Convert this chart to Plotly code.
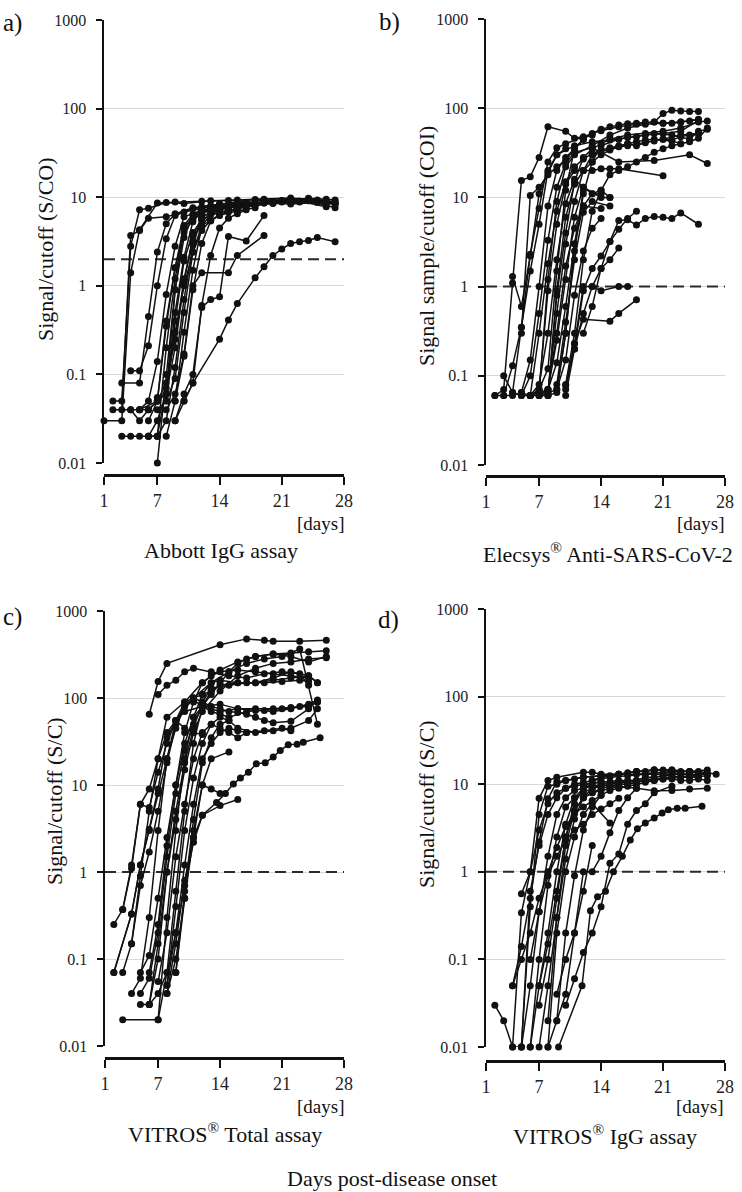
import plotly.graph_objects as go

# ---------------- data ----------------
x_range = [1, 28]
x_ticks = [1, 7, 14, 21, 28]
y_ticks = [0.01, 0.1, 1, 10, 100, 1000]
y_ticktext = ["0.01", "0.1", "1", "10", "100", "1000"]
cutoffs = [2, 1, 1, 1]
panel_labels = ["a)", "b)", "c)", "d)"]
assay_names = ["Abbott IgG assay", "Elecsys<sup>®</sup> Anti-SARS-CoV-2",
               "VITROS<sup>®</sup> Total assay", "VITROS<sup>®</sup> IgG assay"]
y_titles = ["Signal/cutoff (S/CO)", "Signal sample/cutoff (COI)",
            "Signal/cutoff (S/C)", "Signal/cutoff (S/C)"]
x_unit = "[days]"
x_title = "Days post-disease onset"

abbott_days = [
    [1, 3, 4, 5, 7, 9, 12, 15, 18, 21, 24, 27],
    [2, 3, 4, 5, 6, 8, 10, 13, 16, 19, 22, 25, 27],
    [3, 4, 5, 6, 8, 10, 12, 14, 17, 20, 23, 26],
    [2, 4, 5, 7, 8, 9, 10, 12, 14, 16, 19, 22, 25, 27],
    [3, 5, 6, 7, 8, 9, 11, 13, 16, 20],
    [3, 4, 5, 6, 7, 8, 9, 10, 12, 15, 18, 21, 24],
    [4, 5, 6, 7, 8, 9, 11, 14, 17],
    [5, 6, 7, 8, 9, 10, 12, 15, 19, 23, 26],
    [6, 7, 8, 9, 10, 11, 13, 16, 20, 24, 27],
    [6, 7, 8, 9, 10, 11, 12, 14, 17, 21],
    [7, 8, 9, 10, 11, 13, 15],
    [7, 8, 9, 10, 11, 12, 13, 15, 18],
    [8, 9, 10, 11, 12, 13, 14, 16],
    [8, 9, 10, 11, 12, 15, 16, 19],
    [9, 10, 11, 12, 13, 14, 15, 17, 19],
    [9, 10, 11, 14, 15, 16, 18, 19, 20, 21, 22, 23, 24, 25, 27],
    [7, 8, 9, 10, 11, 12, 13, 15, 17, 20, 23],
    [5, 6, 7, 8, 9, 10, 11, 12, 14, 16, 18],
    [4, 5, 6, 7, 8, 9, 10, 11, 12, 13, 15, 17, 19, 22, 25, 27],
    [6, 7, 8, 9, 10, 11, 12, 13, 14, 16, 18],
    [9, 10, 11, 12, 13, 14, 15, 16, 17, 18, 20, 22, 24, 26, 27],
    [10, 11, 12, 13, 14, 15, 16, 17],
    [7, 8, 9, 10, 11, 12, 14, 16, 18, 20, 22, 24, 26],
    [8, 9, 10, 11, 12, 13, 14, 15, 16],
]
abbott_vals = [
    [0.03, 0.03, 1.4, 4.3, 8.6, 8.8, 9.0, 9.2, 9.4, 9.2, 9.6, 8.9],
    [0.05, 0.05, 2.8, 7.2, 7.5, 8.7, 8.5, 9.1, 9.3, 9.5, 9.8, 9.3, 8.6],
    [0.04, 3.7, 4.2, 5.8, 6.0, 6.8, 7.5, 8.0, 8.3, 8.6, 9.0, 7.8],
    [0.04, 0.04, 0.04, 0.05, 0.06, 0.9, 4.5, 7.8, 8.4, 8.9, 9.2, 9.4, 9.0, 8.5],
    [0.08, 0.08, 0.45, 2.4, 5.0, 6.5, 7.6, 8.0, 8.2, 8.8],
    [0.02, 0.02, 0.02, 0.02, 0.02, 0.2, 1.2, 4.6, 6.9, 7.8, 8.4, 8.8, 9.1],
    [0.11, 0.11, 0.21, 1.0, 3.4, 6.2, 7.4, 8.3, 8.7],
    [0.04, 0.05, 0.14, 0.8, 2.8, 6.0, 7.1, 8.0, 8.6, 9.0, 8.4],
    [0.03, 0.05, 0.35, 1.6, 4.8, 6.4, 7.6, 8.3, 8.9, 9.2, 7.6],
    [0.02, 0.03, 0.06, 0.5, 2.1, 5.3, 7.0, 7.9, 8.6, 9.1],
    [0.01, 0.1, 0.9, 3.5, 6.2, 7.3, 7.8],
    [0.02, 0.03, 0.12, 0.7, 2.9, 5.8, 6.9, 7.6, 8.2],
    [0.02, 0.05, 0.3, 1.5, 4.7, 6.4, 7.2, 7.9],
    [0.04, 0.06, 0.17, 1.0, 1.4, 1.4, 2.2, 3.7],
    [0.03, 0.06, 0.1, 0.57, 0.7, 0.75, 3.6, 3.2, 6.2],
    [0.03, 0.05, 0.08, 0.25, 0.41, 0.63, 1.23, 1.64, 2.2, 2.6, 3.0, 3.15, 3.25, 3.5, 3.15],
    [0.04, 0.05, 0.4, 1.9, 4.0, 5.5, 6.4, 7.0, 7.8, 8.5, 8.8],
    [0.04, 0.04, 0.05, 0.08, 0.25, 1.2, 3.2, 5.6, 6.8, 7.4, 8.1],
    [0.04, 0.03, 0.04, 0.05, 0.4, 1.6, 4.0, 5.6, 6.5, 7.2, 7.9, 8.3, 8.6, 8.4, 8.7, 8.3],
    [0.02, 0.02, 0.07, 0.3, 1.0, 2.4, 4.2, 5.5, 6.3, 7.0, 7.6],
    [0.05, 0.16, 0.9, 3.0, 5.4, 6.3, 7.0, 7.5, 8.0, 8.3, 8.8, 9.3, 9.7, 9.5, 9.3],
    [0.05, 0.08, 0.6, 2.2, 4.5, 5.8, 6.5, 7.2],
    [0.055, 0.06, 0.2, 1.1, 3.6, 6.0, 7.4, 8.1, 8.4, 8.8, 9.0, 9.2, 8.8],
    [0.05, 0.09, 0.5, 2.4, 4.8, 5.5, 6.2, 6.8, 7.4],
]

elecsys_days = [
    [2, 3, 4, 5, 6, 7, 8, 10, 11, 13],
    [4, 5, 6, 7, 8, 9, 11, 13, 15, 17, 19, 21, 23, 25],
    [2, 3, 4, 5, 6, 7, 8, 9, 10, 12, 14, 16, 18, 20, 21, 22, 23, 24, 25],
    [3, 4, 5, 6, 7, 8, 9, 10, 11, 13, 15, 17, 19, 21, 23, 25],
    [5, 6, 7, 8, 9, 10, 11, 13, 16, 20, 24, 26],
    [6, 7, 8, 9, 10, 11, 12, 13, 14, 15, 16, 21],
    [6, 7, 8, 9, 10, 11, 12, 13, 14],
    [7, 8, 9, 10, 11, 12, 14, 15],
    [7, 8, 9, 10, 11, 12, 14],
    [8, 9, 10, 11, 12, 13, 14, 16, 18, 20, 22, 24, 25, 26],
    [10, 11, 12, 13, 14, 16, 17],
    [10, 11, 12, 15, 16, 18],
    [12, 13, 14, 15, 16, 17, 18, 19, 20, 21, 22, 23, 25],
    [10, 11, 12, 13, 14, 15, 16, 17, 18],
    [8, 9, 10, 11, 12, 13, 14, 15],
    [9, 10, 11, 12, 13, 14],
    [9, 10, 11, 12, 13, 15],
    [7, 8, 9, 10, 11, 12, 13, 14, 15, 17, 19, 21, 23, 25, 26],
    [8, 9, 10, 11, 12, 13, 15, 17, 19, 21, 23, 25],
    [6, 7, 8, 9, 10, 11, 12, 13, 14, 15, 16, 17, 18, 19, 20, 22, 23],
    [5, 6, 7, 8, 9, 10, 11, 12],
    [6, 7, 8, 9, 10, 11, 12, 13, 14, 15, 16, 17, 18, 19, 20, 21, 22, 23, 24, 25],
    [8, 9, 10, 11, 12, 13, 14, 15, 16, 17, 18, 19, 20, 21, 22, 23, 24, 25],
    [10, 11, 12, 13, 14, 15, 16, 17, 18, 19, 20, 21, 22, 23, 24, 25, 26],
    [4, 5, 6, 7, 8, 9, 10],
    [5, 6, 7, 8, 9, 10, 11, 12],
    [11, 12, 13, 14, 15, 16],
    [3, 4, 5, 6, 7, 8, 9, 10, 11, 12],
]
elecsys_vals = [
    [0.06, 0.07, 1.1, 15.5, 17, 28, 62, 55, 46, 50],
    [1.3, 0.6, 2.2, 11, 19, 30, 38, 42, 44, 47, 50, 52, 55, 73],
    [0.06, 0.06, 0.13, 0.35, 2.3, 7.5, 25, 36, 40, 48, 56, 62, 66, 70, 87, 95, 93, 92, 92],
    [0.1, 0.065, 0.06, 0.06, 0.065, 1.2, 9, 22, 30, 38, 50, 60, 66, 68, 70, 74],
    [0.06, 0.1, 0.5, 3.3, 13, 24, 32, 36, 25, 26, 30, 24],
    [0.06, 0.07, 0.9, 5.0, 14, 20, 20, 20, 21, 21, 21, 17.5],
    [0.06, 0.08, 0.3, 2.0, 8.5, 16, 13, 11, 11],
    [0.06, 0.07, 0.25, 1.2, 6, 13, 10, 10],
    [0.065, 0.07, 0.14, 0.6, 3, 8, 7.5],
    [0.06, 0.065, 0.3, 2.5, 11, 25, 38, 45, 48, 52, 50, 45, 55, 58],
    [0.078, 0.23, 1.0, 1.0, 0.9, 1.0, 1.0],
    [0.07, 0.23, 0.43, 0.41, 0.5, 0.71],
    [0.3, 0.6, 1.6, 3.2, 5.5, 5.6, 4.9, 5.8, 6.1, 6.0, 5.8, 6.7, 5.0],
    [0.06, 0.2, 0.9, 1.6, 2.2, 3.2, 4.4, 5.8, 7.0],
    [0.07, 0.3, 1.7, 4.5, 8, 11, 12, 10],
    [0.07, 0.15, 0.8, 2.5, 4.5, 5.8],
    [0.08, 0.4, 2.0, 6.8, 9, 8],
    [0.06, 0.06, 0.8, 4, 15, 28, 35, 40, 45, 50, 52, 55, 60, 70, 72],
    [0.065, 0.5, 3, 9, 20, 30, 35, 38, 42, 45, 50, 52],
    [0.06, 0.3, 1.8, 7, 15, 22, 27, 31, 34, 36, 38, 40, 42, 44, 45, 43, 40],
    [0.065, 0.15, 1.0, 8, 20, 28, 35, 45],
    [0.06, 0.07, 0.12, 1.5, 12, 35, 45, 52, 58, 62, 65, 67, 68, 70, 70, 68, 68, 70, 72, 75],
    [0.06, 0.9, 6, 14, 20, 25, 30, 34, 37, 40, 38, 41, 43, 45, 44, 48, 50, 52],
    [0.08, 0.3, 2, 7, 12, 18, 20, 22, 25, 28, 32, 35, 38, 40, 42, 46, 60],
    [0.065, 0.35, 1.5, 5, 20, 30, 35],
    [0.3, 10.5, 13, 18, 22, 26, 35, 45],
    [0.2, 0.5, 1.0, 1.6, 2.0, 2.7],
    [0.06, 0.06, 0.065, 0.06, 0.06, 0.065, 0.07, 0.3, 3, 12],
]

vitros_total_days = [
    [6, 7, 8, 14, 17, 19, 20, 23, 26],
    [2, 3, 4, 5, 6, 7, 8, 10, 12, 14, 16, 18, 20, 22, 24, 26],
    [2, 4, 5, 6, 7, 8, 9, 11, 13, 15, 17, 19, 21, 23, 25],
    [3, 7, 8, 9, 10, 11, 12, 13, 14, 16, 18, 20, 22, 24, 25],
    [4, 5, 6, 7, 8, 9, 10, 11, 12, 14, 16, 18, 20, 22, 24, 25],
    [3, 4, 5, 6, 7, 8, 9, 10, 12, 14, 16, 18, 20, 22, 24, 25],
    [5, 6, 7, 8, 9, 10, 11, 12, 13, 14, 16, 18, 20, 22, 24],
    [6, 7, 8, 9, 10, 11, 12, 13.6, 14.6, 15.5, 16.3, 17.2, 18.1, 19.1, 20, 20.8, 21.7, 22.7, 23.4, 25.3],
    [8, 9, 10, 11, 12, 14, 16],
    [8, 9, 10, 11, 12, 13, 14, 15, 16, 18, 20, 22, 24, 25],
    [7, 8, 9, 10, 11, 12, 13, 14, 15, 16, 17, 19, 21, 22],
    [5, 6, 7, 8, 9, 10, 11, 12, 13, 14, 15, 16, 17, 18, 20, 22, 24, 26],
    [6, 7, 8, 9, 10, 11, 12, 13, 15, 17, 19, 21, 23, 24],
    [8, 9, 10, 11, 12, 13, 15],
    [9, 10, 11, 12, 13, 14],
    [4, 5, 6, 7, 8, 9, 10, 11, 12, 13, 14, 15, 16, 17, 18, 19, 20, 22, 24],
    [5, 6, 7, 8, 9, 10, 11, 12, 14, 16, 18, 20, 22, 24, 26],
    [7, 8, 9, 10, 11, 12, 13, 14, 16, 18, 20, 22, 24, 25],
    [6, 7, 8, 9, 10, 11, 12, 13, 14, 15, 17, 19, 21, 23, 25],
    [3, 4, 5, 6, 7, 8, 9, 10, 11, 12],
    [2, 4, 5, 6, 7, 8, 9, 10, 11, 12, 13],
    [8, 9, 10, 11, 12, 13, 14, 15, 16, 17],
    [9, 10, 11, 12, 13, 14, 15],
    [7, 8, 9, 10, 11, 13, 15, 17, 19, 21, 23, 24],
]
vitros_total_vals = [
    [65, 155, 250, 410, 478, 460, 450, 450, 460],
    [0.25, 0.37, 1.1, 6, 9, 20, 60, 90, 150, 210, 260, 300, 320, 300, 260, 300],
    [0.07, 0.33, 1.2, 3.1, 9, 35, 55, 100, 150, 200, 250, 280, 300, 365, 50],
    [0.02, 0.02, 0.3, 3, 20, 60, 110, 150, 160, 150, 150, 170, 200, 180, 150],
    [0.15, 0.7, 1.7, 5, 18, 50, 85, 95, 80, 70, 75, 75, 75, 78, 80, 90],
    [0.37, 1.2, 6, 5.5, 14, 30, 55, 70, 80, 85, 75, 72, 70, 75, 85, 95],
    [0.07, 0.11, 0.5, 2.5, 10, 40, 90, 150, 180, 200, 210, 200, 190, 180, 170],
    [0.03, 0.04, 0.07, 0.2, 0.7, 2.2, 4.5, 6.3, 8, 10.3, 12, 14, 17.5, 18, 21, 25, 29, 29.5, 31, 35],
    [0.04, 0.15, 0.8, 2.5, 4.5, 5.8, 6.8],
    [0.05, 0.4, 3, 12, 30, 50, 60, 55, 45, 40, 42, 45, 55, 75],
    [0.055, 0.2, 1.5, 6, 20, 40, 50, 45, 40, 35, 40, 42, 45, 42],
    [0.04, 0.06, 0.2, 1.5, 8, 25, 50, 80, 110, 150, 200, 250, 280, 300, 320, 330, 340, 350],
    [0.03, 0.1, 1.0, 5, 18, 45, 90, 130, 140, 150, 150, 155, 160, 155],
    [0.04, 0.1, 0.5, 3, 10, 20, 24],
    [0.07, 0.5, 2.5, 10, 9, 8],
    [0.04, 0.06, 0.3, 3, 20, 55, 90, 100, 90, 80, 75, 70, 68, 65, 60, 55, 52, 54, 75],
    [0.03, 0.03, 0.15, 1.0, 4, 15, 40, 70, 120, 180, 220, 250, 260, 280, 290],
    [0.02, 0.07, 0.6, 5, 30, 80, 120, 140, 150, 150, 160, 170, 180, 150],
    [0.07, 0.25, 2, 10, 30, 60, 80, 70, 65, 60, 70, 72, 75, 80, 90],
    [0.07, 0.15, 0.9, 5, 20, 40, 55, 45, 40, 38],
    [0.07, 0.33, 1.2, 3.0, 8, 20, 45, 80, 100, 110, 120],
    [0.05, 0.2, 1.2, 6, 20, 30, 40, 45, 42, 40],
    [0.07, 0.6, 4, 18, 35, 50, 55],
    [110, 140, 160, 200, 220, 200, 180, 170, 190, 200, 190, 140],
]

vitros_igg_days = [
    [2, 3, 4, 5, 6, 7, 8, 9, 10, 11, 12, 14, 16, 18, 20, 22, 24, 26],
    [4, 5, 6, 7, 8, 9, 10, 12, 14, 16, 18, 20, 22, 24, 26],
    [5, 6, 7, 8, 9, 12, 13, 14, 16, 18, 20, 22, 24, 26],
    [4, 5, 6, 7, 8, 9, 10, 11, 12, 14, 16, 18, 20, 22, 24, 26],
    [5, 6, 7, 8, 9, 10, 11, 12, 13, 14, 16, 18, 20, 22, 24, 26],
    [6, 7, 8, 9, 10, 11, 12, 13, 14, 15, 17, 19, 21, 23, 25],
    [7, 8, 9, 10, 11, 12, 13, 14, 15, 16, 17, 18, 19, 20, 21, 22, 23, 24, 25],
    [8, 9, 10, 11, 12, 13, 14, 15, 16, 17, 18, 19, 20],
    [9.2, 11.85, 12.8, 13.6, 14.5, 15.4, 16.4, 17.3, 18.1, 19, 20, 20.9, 21.6, 22.6, 23.5, 25.4],
    [10, 11, 12, 13, 14, 15, 16, 17, 18, 19, 20, 22],
    [8, 9, 10, 11, 12, 13, 15],
    [6, 7, 8, 9, 10, 11, 12, 13, 14, 15, 16],
    [5, 6, 7, 8, 9, 10, 11, 12, 13, 15, 17, 19, 21, 23, 25],
    [7, 8, 9, 10, 11, 12, 13, 14, 15, 16],
    [9, 10, 11, 12, 13, 14, 15, 16, 17, 18],
    [8, 9, 10, 11, 12, 13, 14, 15, 16, 17, 18, 19, 20, 21, 22, 23, 24, 25, 26],
    [9, 10, 11, 12, 13],
    [4, 5, 6, 7, 8, 9, 10, 11, 12, 13, 14],
    [7, 8, 9, 10, 11, 12, 13, 14, 15, 16, 17, 18, 19, 20, 21, 22, 23, 24, 25, 26, 27],
    [6, 7, 8, 9, 10, 11, 12, 13, 14],
]
vitros_igg_vals = [
    [0.03, 0.02, 0.01, 0.01, 0.4, 4.5, 9.5, 10, 11, 11.5, 12, 12.5, 13, 13, 13.5, 13.5, 13, 13],
    [0.05, 0.14, 0.5, 2.2, 6.8, 10.7, 11, 12, 12.5, 13, 14, 14.5, 14, 14, 13],
    [0.56, 1.0, 6.9, 11, 12, 13.7, 13.7, 13, 13, 14, 14.5, 14.5, 14, 14.5],
    [0.01, 0.34, 1.0, 3, 6, 8, 9, 9.5, 10, 10.5, 11, 11, 11.5, 12, 12, 12.5],
    [0.01, 0.05, 0.35, 1.5, 4.5, 7, 8.5, 9, 9.5, 9.8, 9.5, 9, 8.4, 8.5, 8.8, 9.0],
    [0.01, 0.1, 0.7, 2.5, 5.5, 7, 8, 9, 9.5, 10, 10.5, 11, 11.5, 12, 12],
    [0.01, 0.05, 0.3, 1.4, 4, 7, 9, 10, 10.5, 10.5, 11, 11, 12, 12, 12.5, 12.5, 12, 12.5, 13],
    [0.01, 0.02, 0.2, 0.9, 3, 5.5, 7.5, 8.5, 9, 9.5, 10, 10.5, 11],
    [0.01, 0.05, 0.36, 0.52, 0.6, 1.0, 1.5, 2.3, 3.1, 3.6, 4.1, 4.7, 5.1, 5.3, 5.3, 5.6],
    [0.03, 0.06, 0.12, 0.2, 0.4, 1.25, 1.6, 3.5, 5.0, 6.0, 8, 9.5],
    [0.01, 0.2, 1.0, 2.5, 4.5, 6.0, 3.6],
    [0.1, 0.35, 0.9, 1.5, 2.3, 3.0, 3.5, 4.5, 5.2, 6.0, 6.9],
    [0.01, 0.6, 2.0, 4.5, 7, 9, 10, 10.5, 11, 12, 12.5, 13, 13, 13, 12.5],
    [0.05, 0.15, 0.6, 2.5, 5, 7, 8, 8.5, 9, 9.5],
    [0.02, 0.04, 0.2, 1.0, 1.0, 1.5, 2.8, 5, 7, 9],
    [0.02, 0.3, 2, 5, 7, 8, 9, 9.5, 10, 10, 10.5, 11, 11, 11.5, 11.5, 11, 11, 11.5, 11],
    [0.04, 0.1, 0.2, 0.6, 2.0],
    [0.05, 0.1, 0.2, 0.5, 1.0, 1.9, 3.3, 4.6, 5.5, 6.5, 7.5],
    [0.03, 0.1, 0.5, 2.5, 6, 9, 11, 12, 12.5, 13, 13.5, 14, 14, 14.5, 14.5, 14.5, 14, 14, 14, 13.5, 13],
    [0.01, 0.05, 0.2, 1.0, 3.5, 7, 9, 10, 11],
]

datasets = [
    (abbott_days, abbott_vals),
    (elecsys_days, elecsys_vals),
    (vitros_total_days, vitros_total_vals),
    (vitros_igg_days, vitros_igg_vals),
]

# ---------------- geometry (pixels in the 742x1192 page) ----------------
W, H = 742, 1192
FONT = "Liberation Serif, 'Times New Roman', Times, serif"
INK = "#111111"

geom = [
    dict(l=104, r=344, t=20, b=463, xa=475, lab=(1, 23), yt=(46, 249), unit=(346, 511), sub=(221, 550)),
    dict(l=486, r=725, t=19, b=465, xa=476, lab=(377, 22), yt=(426, 246), unit=(726, 511), sub=(608, 553)),
    dict(l=105, r=344, t=611, b=1046, xa=1058, lab=(1, 617), yt=(54, 801), unit=(346, 1094), sub=(225, 1133)),
    dict(l=486, r=725, t=609, b=1047, xa=1061, lab=(376, 620), yt=(426, 804), unit=(725, 1094), sub=(605, 1135)),
]


def fx(px):
    return px / W


def fy(py):
    return 1 - py / H


fig = go.Figure()
layout_axes = {}
annotations = []

for i, ((days, vals), g) in enumerate(zip(datasets, geom)):
    n = i + 1
    xa = "x" if n == 1 else f"x{n}"
    ya = "y" if n == 1 else f"y{n}"

    # cutoff line
    fig.add_trace(go.Scatter(
        x=x_range, y=[cutoffs[i], cutoffs[i]], mode="lines", xaxis=xa, yaxis=ya,
        line=dict(color="#2a2a2a", width=2, dash="11px,6px"),
        hoverinfo="skip", showlegend=False))

    for d, v in zip(days, vals):
        fig.add_trace(go.Scatter(
            x=d, y=v, mode="lines+markers", xaxis=xa, yaxis=ya,
            line=dict(color=INK, width=1.5),
            marker=dict(color=INK, size=7),
            cliponaxis=False, hoverinfo="skip", showlegend=False))

    layout_axes["xaxis" if n == 1 else f"xaxis{n}"] = dict(
        domain=[fx(g["l"]), fx(g["r"])], range=x_range, anchor="free",
        position=fy(g["xa"]), tickmode="array", tickvals=x_ticks,
        ticks="outside", ticklen=8, tickwidth=2, tickcolor=INK,
        showline=True, linewidth=2.5, linecolor=INK, automargin=False,
        showgrid=False, zeroline=False, ticklabelstandoff=1, fixedrange=True,
        tickfont=dict(family=FONT, size=18, color="#222"))
    layout_axes["yaxis" if n == 1 else f"yaxis{n}"] = dict(
        domain=[fy(g["b"]), fy(g["t"])], type="log", range=[-2, 3], anchor=xa,
        tickmode="array", tickvals=y_ticks, ticktext=y_ticktext,
        ticks="outside", ticklen=6, tickwidth=2, tickcolor=INK,
        showline=True, linewidth=2.5, linecolor=INK, automargin=False,
        showgrid=True, gridcolor="#d9d9d9", gridwidth=1, zeroline=False,
        ticklabelstandoff=6, fixedrange=True,
        tickfont=dict(family=FONT, size=16, color="#222"))

    annotations.append(dict(
        text=panel_labels[i], xref="paper", yref="paper",
        x=fx(g["lab"][0]), y=fy(g["lab"][1]), xanchor="left", yanchor="middle",
        showarrow=False, font=dict(family=FONT, size=25, color=INK)))
    annotations.append(dict(
        text=y_titles[i], xref="paper", yref="paper", textangle=-90,
        x=fx(g["yt"][0]), y=fy(g["yt"][1]), xanchor="center", yanchor="middle",
        showarrow=False, font=dict(family=FONT, size=22, color=INK)))
    annotations.append(dict(
        text=x_unit, xref="paper", yref="paper",
        x=fx(g["unit"][0]), y=fy(g["unit"][1]), xanchor="right", yanchor="top",
        showarrow=False, font=dict(family=FONT, size=19, color=INK)))
    annotations.append(dict(
        text=assay_names[i], xref="paper", yref="paper",
        x=fx(g["sub"][0]), y=fy(g["sub"][1]), xanchor="center", yanchor="middle",
        showarrow=False, font=dict(family=FONT, size=22, color=INK)))

annotations.append(dict(
    text=x_title, xref="paper", yref="paper", x=fx(392), y=fy(1178),
    xanchor="center", yanchor="middle", showarrow=False,
    font=dict(family=FONT, size=22, color=INK)))

fig.update_layout(
    template="none",
    width=W, height=H, margin=dict(l=0, r=0, t=0, b=0, pad=0, autoexpand=False),
    paper_bgcolor="white", plot_bgcolor="white", showlegend=False,
    hovermode=False,
    font=dict(family=FONT, color=INK), annotations=annotations, **layout_axes)

fig.write_html(
    "out.html",
    config={"displayModeBar": False, "staticPlot": True},
    post_script="document.body.style.margin='0px';document.body.style.overflow='hidden';",
)
